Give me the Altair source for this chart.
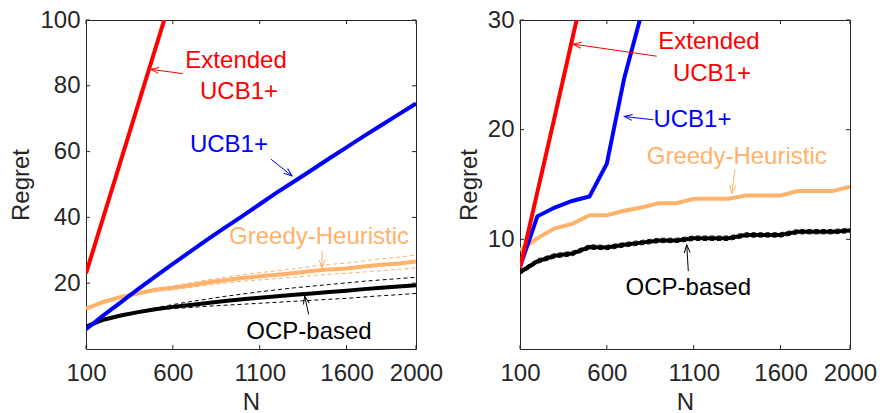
import math
import altair as alt
import pandas as pd

# ---------------- data ----------------
N = [100, 200, 300, 400, 500, 600, 700, 800, 900, 1000,
     1100, 1200, 1300, 1400, 1500, 1600, 1700, 1800, 1900, 2000]

# Left panel
left_ext_N = [100, 200, 300, 400, 500, 600]
left_ext = [23.0, 40.1, 57.2, 74.3, 91.4, 108.5]
left_ucb = [6.0, 10.2, 14.2, 18.2, 22.1, 25.9, 29.6, 33.3, 36.9, 40.4,
            44.0, 47.6, 51.0, 54.4, 57.9, 61.3, 64.7, 68.0, 71.3, 74.6]
left_greedy = [12.3, 14.3, 15.8, 16.9, 18.0, 18.6, 19.4, 20.2, 20.9, 21.6,
               22.1, 22.6, 23.1, 23.7, 24.2, 24.5, 25.1, 25.6, 26.0, 26.6]
left_greedy_hi = [12.4, 14.5, 16.1, 17.3, 18.5, 19.2, 20.1, 21.0, 21.8, 22.6,
                  23.2, 23.8, 24.4, 25.1, 25.7, 26.1, 26.8, 27.4, 27.9, 28.6]
left_greedy_lo = [12.2, 14.1, 15.5, 16.5, 17.5, 18.0, 18.7, 19.4, 20.0, 20.6,
                  21.0, 21.4, 21.8, 22.3, 22.7, 23.0, 23.4, 23.8, 24.2, 24.7]
left_ocp = [6.8, 8.9, 10.2, 11.2, 12.1, 12.8, 13.4, 14.0, 14.6, 15.1,
            15.6, 16.0, 16.5, 16.9, 17.3, 17.7, 18.2, 18.6, 19.0, 19.4]
left_ocp_hi = [6.9, 9.0, 10.4, 11.5, 12.5, 13.5, 14.4, 15.2, 16.0, 16.7,
               17.4, 18.0, 18.6, 19.1, 19.6, 20.1, 20.6, 21.0, 21.4, 21.8]
left_ocp_lo = [6.7, 8.8, 10.0, 10.9, 11.8, 12.3, 12.6, 13.0, 13.3, 13.6,
               13.9, 14.2, 14.5, 14.8, 15.1, 15.4, 15.8, 16.2, 16.5, 16.9]

# Right panel
right_ext_N = [100, 200, 300, 400, 500]
right_ext = [7.4, 14.3, 21.2, 28.2, 35.1]
right_ucb_N = [100, 200, 300, 400, 500, 600, 700, 800]
right_ucb = [7.5, 12.1, 12.9, 13.5, 13.9, 16.9, 24.7, 30.6]
right_greedy = [9.0, 10.1, 11.0, 11.4, 12.2, 12.2, 12.6, 12.9, 13.3, 13.3,
                13.7, 13.7, 13.7, 14.0, 14.0, 14.0, 14.4, 14.4, 14.4, 14.8]
right_ocp = [7.0, 8.0, 8.5, 8.7, 9.3, 9.25, 9.5, 9.7, 9.9, 9.9,
             10.1, 10.1, 10.1, 10.4, 10.4, 10.4, 10.7, 10.7, 10.7, 10.8]
right_ocp_hi = [7.2, 8.2, 8.7, 8.9, 9.5, 9.45, 9.7, 9.9, 10.1, 10.1,
                10.3, 10.3, 10.3, 10.6, 10.6, 10.6, 10.9, 10.9, 10.9, 11.0]
right_ocp_lo = [6.8, 7.8, 8.3, 8.5, 9.1, 9.05, 9.3, 9.5, 9.7, 9.7,
                9.9, 9.9, 9.9, 10.2, 10.2, 10.2, 10.5, 10.5, 10.5, 10.6]

x_ticks = [100, 600, 1100, 1600, 2000]
left_y_ticks = [20, 40, 60, 80, 100]
right_y_ticks = [10, 20, 30]

# annotation labels: (text, x, y, series)
left_labels = [("Extended", 964, 87.5, "ext"), ("UCB1+", 981, 78.2, "ext"),
               ("UCB1+", 923, 62.0, "ucb"), ("Greedy-Heuristic", 1442, 34.0, "greedy"),
               ("OCP-based", 1384, 5.3, "ocp")]
right_labels = [("Extended", 1188, 28.0, "ext"), ("UCB1+", 1205, 25.1, "ext"),
                ("UCB1+", 1093, 20.9, "ucb"), ("Greedy-Heuristic", 1348, 17.5, "greedy"),
                ("OCP-based", 1069, 5.6, "ocp")]
# arrows: (x_tail, y_tail, x_head, y_head, series)
left_arrows = [(658, 83.7, 473, 85.0, "ext"), (1165, 57.7, 1286, 52.6, "ucb"),
               (1459, 29.8, 1459, 24.7, "greedy"), (1382, 10.5, 1359, 16.1, "ocp")]
right_arrows = [(887, 26.7, 407, 27.8, "ext"), (868, 20.9, 701, 21.2, "ucb"),
                (1338, 16.4, 1319, 14.2, "greedy"), (1069, 7.1, 1060, 9.5, "ocp")]

# ---------------- style ----------------
W, H = 330, 329
FONT = "Liberation Sans"
AX = "#262626"
COLORS = {"ext": "#FF0000", "ucb": "#0000FF", "greedy": "#FFB26B", "ocp": "#000000"}


def panel(ymax, y_ticks, lines, bands, labels, arrows):
    xs = alt.Scale(domain=[100, 2000], nice=False, zero=False)
    ys = alt.Scale(domain=[0, ymax], nice=False)
    xax = alt.Axis(values=x_ticks, title="N", format="d", labelPadding=12, titlePadding=5,
                   labelOverlap=False, labelFlush=False)
    yax = alt.Axis(values=y_ticks, title="Regret", format="d", labelPadding=6, titlePadding=6,
                   labelOverlap=False, labelFlush=False)

    layers = []
    # dashed confidence lines
    for xv, yv, key in bands:
        df = pd.DataFrame({"N": xv, "v": yv})
        layers.append(
            alt.Chart(df).mark_line(color=COLORS[key], strokeWidth=1, strokeDash=[4, 3], clip=True)
            .encode(x=alt.X("N:Q", scale=xs, axis=xax), y=alt.Y("v:Q", scale=ys, axis=yax))
        )
    # main lines
    for xv, yv, key in lines:
        df = pd.DataFrame({"N": xv, "v": yv})
        layers.append(
            alt.Chart(df).mark_line(color=COLORS[key], strokeWidth=4, clip=True)
            .encode(x=alt.X("N:Q", scale=xs, axis=xax), y=alt.Y("v:Q", scale=ys, axis=yax))
        )
    # inward ticks
    tx = pd.DataFrame({"t": x_ticks})
    ty = pd.DataFrame({"t": y_ticks})
    layers.append(alt.Chart(tx).mark_rule(color=AX, strokeWidth=1).encode(
        x=alt.X("t:Q", scale=xs, axis=xax), y=alt.value(H), y2=alt.value(H - 4)))
    layers.append(alt.Chart(tx).mark_rule(color=AX, strokeWidth=1).encode(
        x=alt.X("t:Q", scale=xs, axis=xax), y=alt.value(0), y2=alt.value(4)))
    layers.append(alt.Chart(ty).mark_rule(color=AX, strokeWidth=1).encode(
        y=alt.Y("t:Q", scale=ys, axis=yax), x=alt.value(0), x2=alt.value(4)))
    layers.append(alt.Chart(ty).mark_rule(color=AX, strokeWidth=1).encode(
        y=alt.Y("t:Q", scale=ys, axis=yax), x=alt.value(W), x2=alt.value(W - 4)))

    # labels
    for text, x, y, key in labels:
        df = pd.DataFrame({"x": [x], "y": [y], "t": [text]})
        layers.append(
            alt.Chart(df).mark_text(color=COLORS[key], font=FONT, fontSize=24,
                                    align="center", baseline="middle")
            .encode(x=alt.X("x:Q", scale=xs, axis=xax), y=alt.Y("y:Q", scale=ys, axis=yax),
                    text="t:N")
        )
    # arrows
    sx = W / 1900.0
    sy = H / float(ymax)
    for xt, yt, xh, yh, key in arrows:
        dx = (xh - xt) * sx
        dy = -(yh - yt) * sy
        ang = math.degrees(math.atan2(dx, -dy)) % 360
        df = pd.DataFrame({"x": [xt], "y": [yt], "x2": [xh], "y2": [yh], "a": [ang]})
        layers.append(
            alt.Chart(df).mark_rule(color=COLORS[key], strokeWidth=1)
            .encode(x=alt.X("x:Q", scale=xs, axis=xax), y=alt.Y("y:Q", scale=ys, axis=yax),
                    x2="x2:Q", y2="y2:Q")
        )
        layers.append(
            alt.Chart(df).mark_point(shape="M -0.75 2 L 0 0 L 0.75 2", filled=False,
                                     stroke=COLORS[key], strokeWidth=1, size=64, opacity=1)
            .encode(x=alt.X("x2:Q", scale=xs, axis=xax), y=alt.Y("y2:Q", scale=ys, axis=yax),
                    angle=alt.Angle("a:Q", scale=None))
        )
    return alt.layer(*layers).properties(width=W, height=H)


left = panel(
    100, left_y_ticks,
    lines=[(N, left_ocp, "ocp"), (N, left_greedy, "greedy"), (N, left_ucb, "ucb"),
           (left_ext_N, left_ext, "ext")],
    bands=[(N, left_ocp_hi, "ocp"), (N, left_ocp_lo, "ocp"),
           (N, left_greedy_hi, "greedy"), (N, left_greedy_lo, "greedy")],
    labels=left_labels, arrows=left_arrows,
)
right = panel(
    30, right_y_ticks,
    lines=[(N, right_ocp, "ocp"), (N, right_greedy, "greedy"), (right_ucb_N, right_ucb, "ucb"),
           (right_ext_N, right_ext, "ext")],
    bands=[(N, right_ocp_hi, "ocp"), (N, right_ocp_lo, "ocp")],
    labels=right_labels, arrows=right_arrows,
)

chart = (
    alt.hconcat(left, right, spacing=104, bounds="flush")
    .resolve_scale(x="independent", y="independent")
    .properties(padding={"left": 9, "top": 7, "right": 0, "bottom": 0}, background="white")
    .configure_view(stroke=AX, strokeWidth=1)
    .configure_axis(
        grid=False, ticks=False, domain=False,
        labelFont=FONT, labelFontSize=24, labelColor=AX,
        titleFont=FONT, titleFontSize=24, titleFontWeight="normal", titleColor=AX,
    )
)

chart.save("out.html", embed_options={"renderer": "svg", "actions": False})
